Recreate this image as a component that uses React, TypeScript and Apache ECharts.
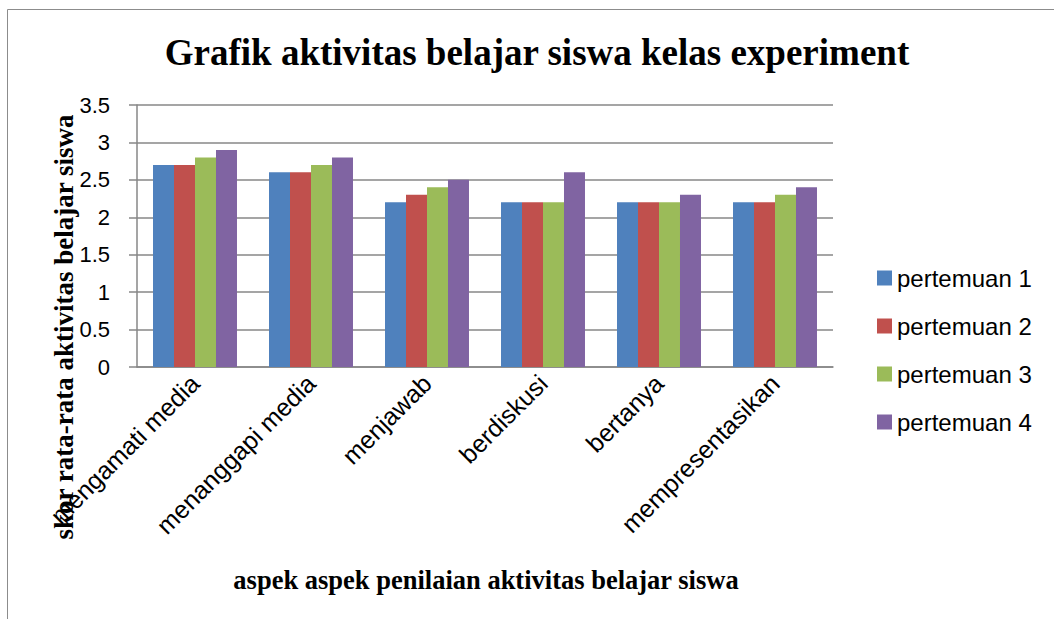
import React, { useEffect, useRef } from "react";
import * as echarts from "echarts";

const categories = [
  "mengamati media",
  "menanggapi media",
  "menjawab",
  "berdiskusi",
  "bertanya",
  "mempresentasikan",
];
const seriesNames = ["pertemuan 1", "pertemuan 2", "pertemuan 3", "pertemuan 4"];
const pertemuan1 = [2.7, 2.6, 2.2, 2.2, 2.2, 2.2];
const pertemuan2 = [2.7, 2.6, 2.3, 2.2, 2.2, 2.2];
const pertemuan3 = [2.8, 2.7, 2.4, 2.2, 2.2, 2.3];
const pertemuan4 = [2.9, 2.8, 2.5, 2.6, 2.3, 2.4];
const seriesValues = [pertemuan1, pertemuan2, pertemuan3, pertemuan4];
const colors = ["#4F81BD", "#C0504D", "#9BBB59", "#8064A2"];

const titleText = "Grafik aktivitas belajar siswa kelas experiment";
const yTitle = "skor rata-rata aktivitas belajar siswa";
const xTitle = "aspek aspek penilaian aktivitas belajar siswa";

export default function App() {
  const ref = useRef<HTMLDivElement>(null);
  useEffect(() => {
    if (!ref.current) return;
    const chart = echarts.init(ref.current, null, { renderer: "svg" });
    const gridColor = "#878787";
    chart.setOption({
      animation: false,
      backgroundColor: "#ffffff",
      grid: { left: 137, top: 105, width: 696, height: 262, containLabel: false },
      legend: {
        orient: "vertical",
        left: 877,
        top: 266,
        padding: 0,
        itemWidth: 15,
        itemHeight: 15,
        itemGap: 24,
        icon: "rect",
        data: seriesNames,
        textStyle: {
          fontFamily: "Liberation Sans",
          fontSize: 24,
          lineHeight: 24,
          color: "#000",
        },
      },
      xAxis: {
        type: "category",
        data: categories,
        axisLine: { show: true, lineStyle: { color: gridColor, width: 1.5 } },
        axisTick: { show: false },
        axisLabel: {
          interval: 0,
          rotate: 45,
          margin: 12,
          fontFamily: "Liberation Sans",
          fontSize: 25,
          color: "#000",
        },
      },
      yAxis: {
        type: "value",
        min: 0,
        max: 3.5,
        interval: 0.5,
        axisLine: { show: true, lineStyle: { color: gridColor, width: 1.5 } },
        axisTick: { show: true, length: 8, lineStyle: { color: gridColor, width: 1.5 } },
        splitLine: { show: true, lineStyle: { color: gridColor, width: 1.5 } },
        axisLabel: {
          margin: 27,
          fontFamily: "Liberation Sans",
          fontSize: 22,
          color: "#000",
        },
      },
      series: seriesValues.map((vals, i) => ({
        type: "bar",
        name: seriesNames[i],
        data: vals,
        barGap: "0%",
        barCategoryGap: "27.6%",
        itemStyle: { color: colors[i] },
      })),
      graphic: [
        {
          type: "rect",
          shape: { x: 7.5, y: 9.5, width: 1200, height: 800 },
          style: { fill: "none", stroke: "#8c8c8c", lineWidth: 1 },
          silent: true,
        },
        {
          type: "text",
          x: 537,
          y: 52,
          style: {
            text: titleText,
            fontFamily: "Liberation Serif",
            fontWeight: "bold",
            fontSize: 37,
            fill: "#000",
            textAlign: "center",
            textVerticalAlign: "middle",
          },
        },
        {
          type: "text",
          x: 64,
          y: 327,
          rotation: Math.PI / 2,
          style: {
            text: yTitle,
            fontFamily: "Liberation Serif",
            fontWeight: "bold",
            fontSize: 27,
            fill: "#000",
            textAlign: "center",
            textVerticalAlign: "middle",
          },
        },
        {
          type: "text",
          x: 486,
          y: 580,
          style: {
            text: xTitle,
            fontFamily: "Liberation Serif",
            fontWeight: "bold",
            fontSize: 26.5,
            fill: "#000",
            textAlign: "center",
            textVerticalAlign: "middle",
          },
        },
      ],
    });
    return () => chart.dispose();
  }, []);
  return (
    <div
      ref={ref}
      style={{ position: "absolute", left: 0, top: 0, width: 1054, height: 619 }}
    />
  );
}
